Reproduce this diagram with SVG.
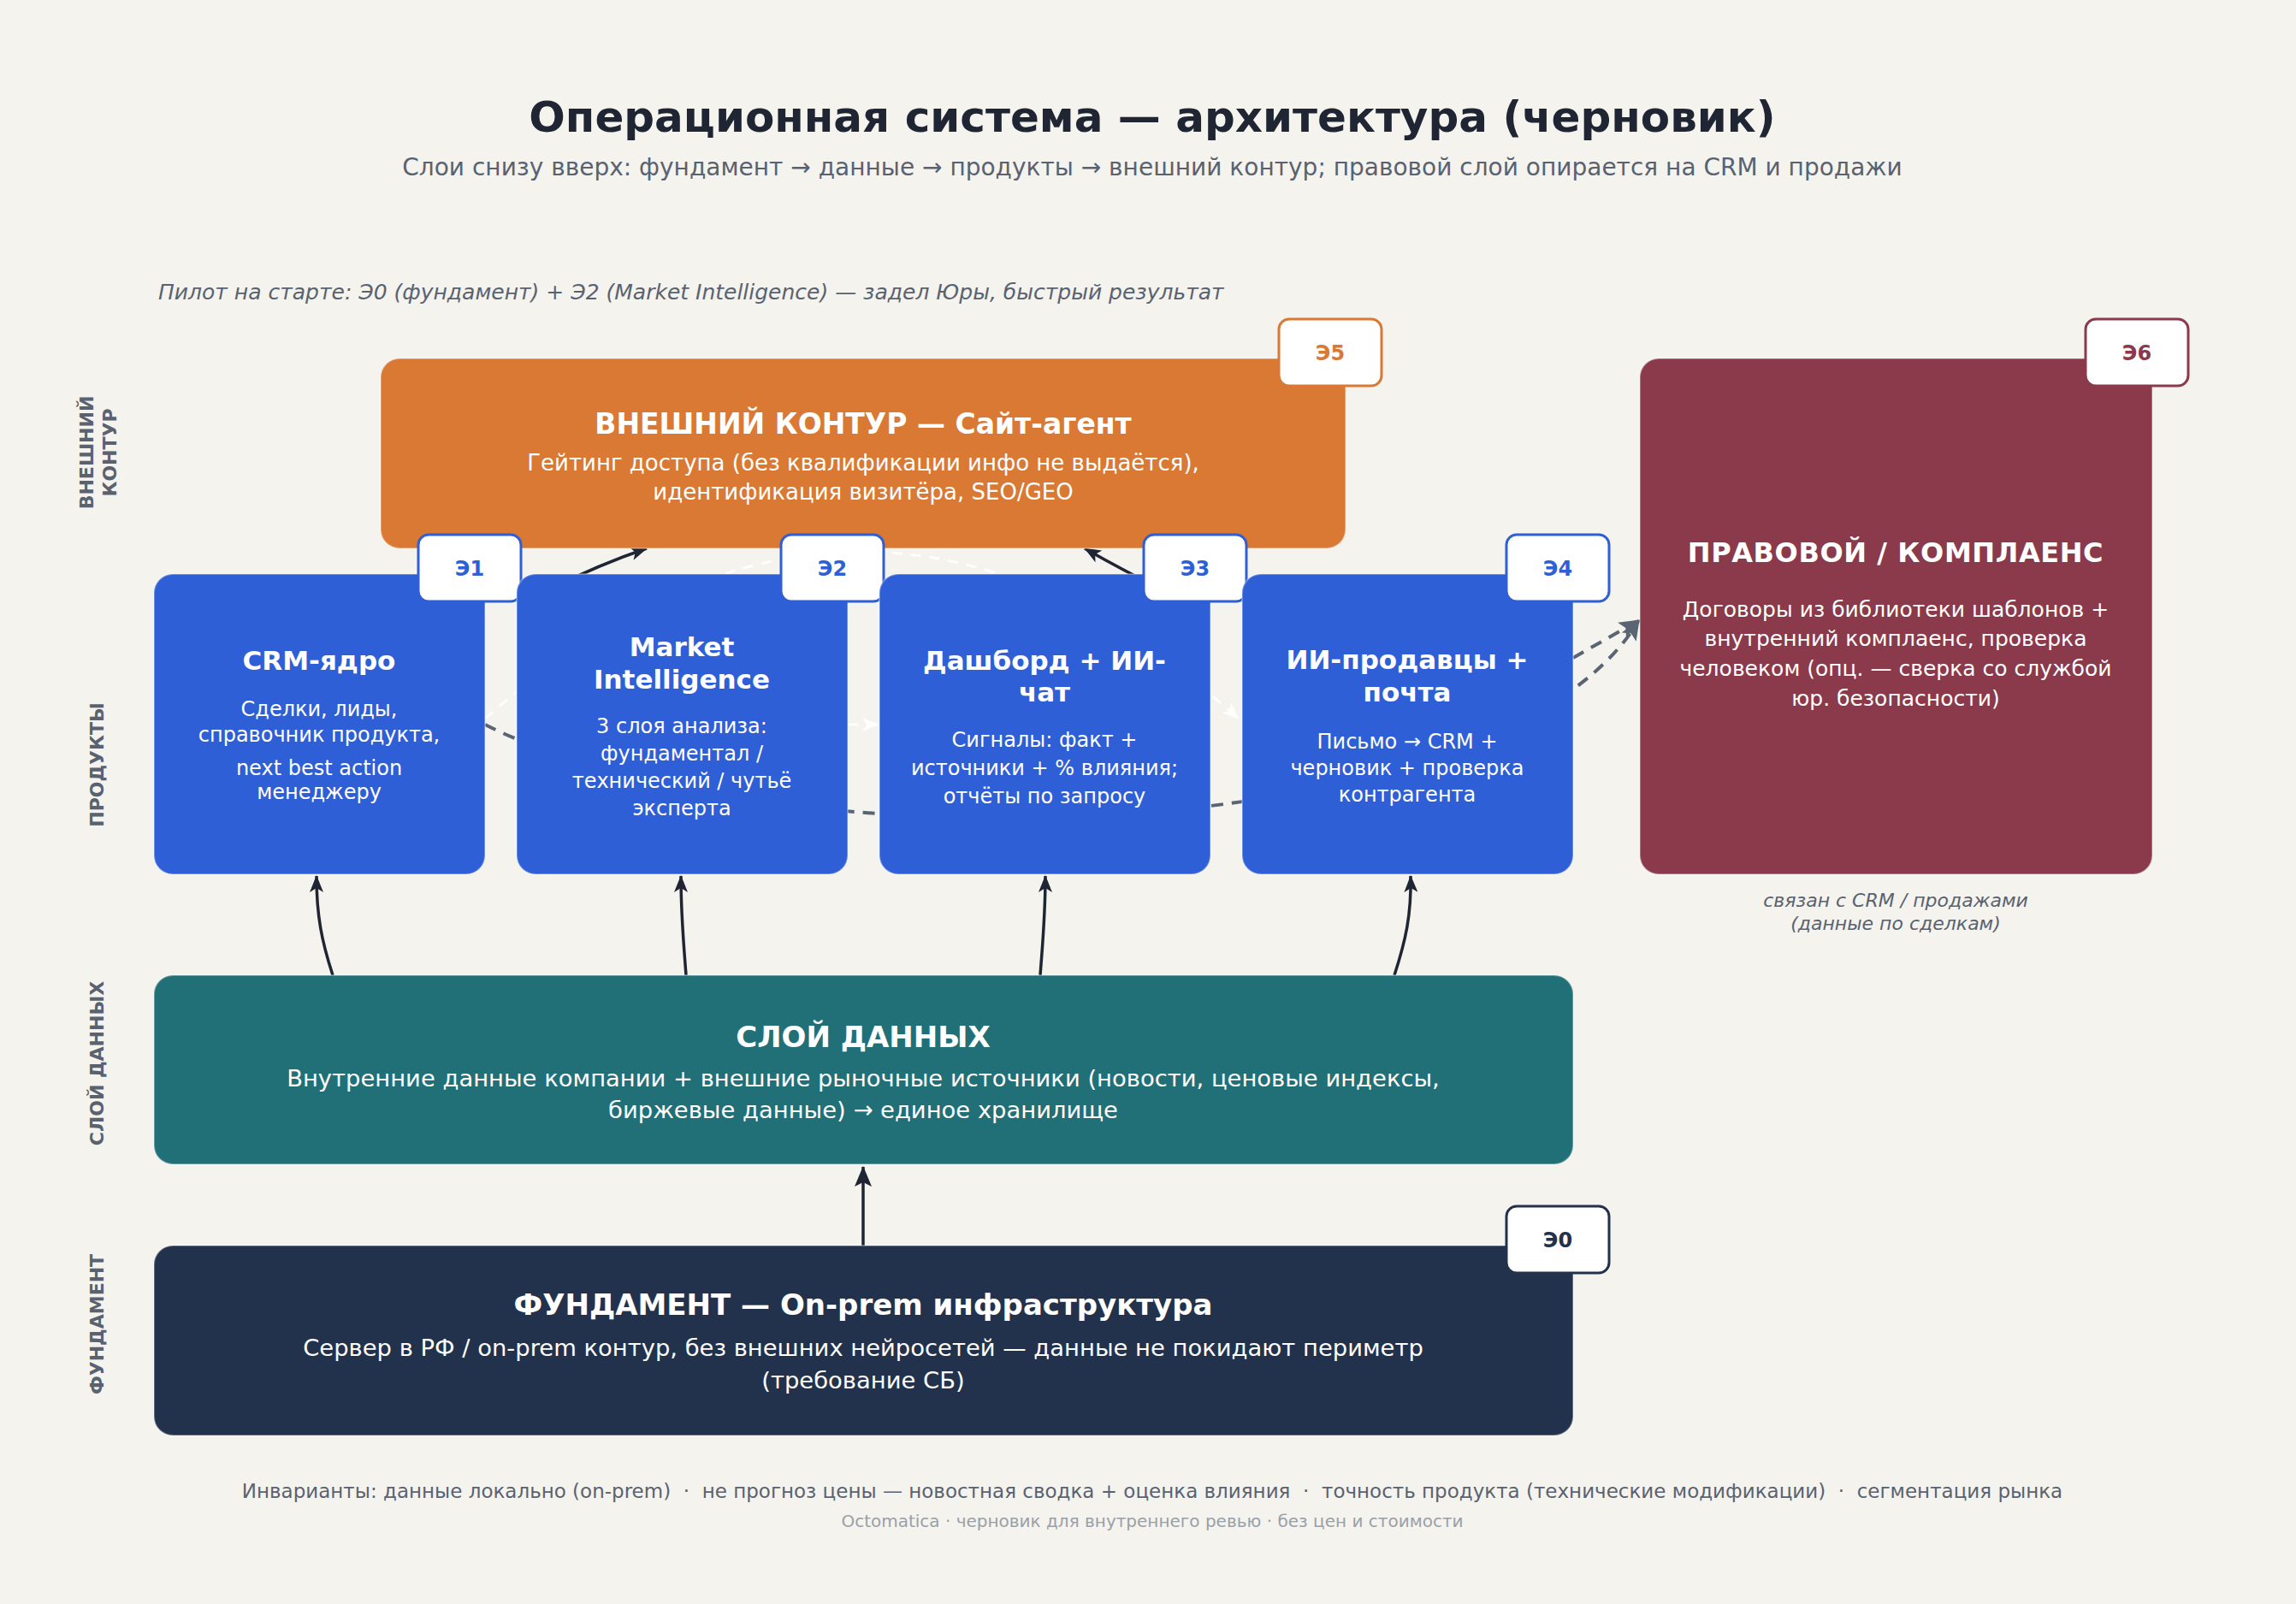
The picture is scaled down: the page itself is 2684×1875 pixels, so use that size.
<svg xmlns="http://www.w3.org/2000/svg" width="2684" height="1875" viewBox="0 0 2684 1875">
<defs>
<style>
text{font-family:"DejaVu Sans","Noto Sans",sans-serif}
.t{font-weight:bold;fill:#fff;text-anchor:middle}
.d{fill:#fff;text-anchor:middle}
.side{font-weight:bold;fill:#5a6270;font-size:22px;text-anchor:middle}
.badge{fill:#fff;stroke-width:3}
.bt{font-weight:bold;font-size:24px;text-anchor:middle}
.box{stroke:#fff;stroke-opacity:0.3;stroke-width:2}
.solid{fill:none;stroke:#1f2533;stroke-width:3.5}
.gdash{fill:none;stroke:#5a6472;stroke-width:4;stroke-dasharray:14 10}
.wdash{fill:none;stroke:#fff;stroke-opacity:0.85;stroke-width:3;stroke-dasharray:12 10}
</style>
<marker id="ah" viewBox="0 0 20 16" refX="19" refY="8" markerWidth="20" markerHeight="16" markerUnits="userSpaceOnUse" orient="auto"><path d="M0,0 L20,8 L0,16 L5,8 z" fill="#1f2533"/></marker>
<marker id="ahb" viewBox="0 0 24 20" refX="23" refY="10" markerWidth="24" markerHeight="20" markerUnits="userSpaceOnUse" orient="auto"><path d="M0,0 L24,10 L0,20 L5,10 z" fill="#1f2533"/></marker>
<marker id="ahg" viewBox="0 0 24 20" refX="23" refY="10" markerWidth="24" markerHeight="20" markerUnits="userSpaceOnUse" orient="auto"><path d="M0,0 L24,10 L0,20 L5,10 z" fill="#5a6472"/></marker>
<marker id="ahw" viewBox="0 0 20 16" refX="19" refY="8" markerWidth="20" markerHeight="16" markerUnits="userSpaceOnUse" orient="auto"><path d="M0,0 L20,8 L0,16 L5,8 z" fill="#fff" fill-opacity="0.85"/></marker>
</defs>
<rect width="2684" height="1875" fill="#f4f3ee"/>
<text x="1347" y="154" font-size="50" font-weight="bold" fill="#1f2533" text-anchor="middle">Операционная система — архитектура (черновик)</text>
<text x="1347" y="205" font-size="28" fill="#5a6270" text-anchor="middle">Слои снизу вверх: фундамент → данные → продукты → внешний контур; правовой слой опирается на CRM и продажи</text>
<text x="185" y="350" font-size="25" font-style="italic" fill="#5a6270">Пилот на старте: Э0 (фундамент) + Э2 (Market Intelligence) — задел Юры, быстрый результат</text>
<g id="side-labels">
<text class="side" transform="translate(109,529) rotate(-90)"><tspan x="0" dy="0">ВНЕШНИЙ</tspan><tspan x="0" dy="27">КОНТУР</tspan></text>
<text class="side" transform="translate(121,894) rotate(-90)">ПРОДУКТЫ</text>
<text class="side" transform="translate(121,1243) rotate(-90)">СЛОЙ ДАННЫХ</text>
<text class="side" transform="translate(121,1548) rotate(-90)">ФУНДАМЕНТ</text>
</g>
<g id="connectors">
<path class="solid" d="M1009 1456 L1009 1364" stroke-width="5" marker-end="url(#ahb)"/>
<path class="solid" d="M389 1140 C376 1100 370 1070 370 1024" marker-end="url(#ah)"/>
<path class="solid" d="M802 1140 C799 1100 796 1070 796 1024" marker-end="url(#ah)"/>
<path class="solid" d="M1216 1140 C1219 1100 1222 1070 1222 1024" marker-end="url(#ah)"/>
<path class="solid" d="M1630 1140 C1643 1100 1650 1070 1649 1024" marker-end="url(#ah)"/>
<path class="solid" d="M640 690 Q700 660 756 641" stroke-width="4" marker-end="url(#ah)"/>
<path class="solid" d="M1360 690 Q1310 665 1268 641" stroke-width="4" marker-end="url(#ah)"/>
<path class="wdash" d="M567 840 Q1007 450 1448 840" marker-end="url(#ahw)"/>
<path class="wdash" d="M991 847 L1027 847" marker-end="url(#ahw)"/>
<path class="gdash" d="M567 847 C900 1015 1750 1000 1916 725" marker-end="url(#ahg)"/>
<path class="gdash" d="M1839 769 L1916 725" marker-end="url(#ahg)"/>
</g>
<g id="node-e5">
<rect class="box" x="445" y="419" width="1128" height="222" rx="22" fill="#d97934"/>
<text class="t" x="1009" y="507" font-size="33">ВНЕШНИЙ КОНТУР — Сайт-агент</text>
<text class="d" x="1009" y="550" font-size="26">Гейтинг доступа (без квалификации инфо не выдаётся),</text>
<text class="d" x="1009" y="584" font-size="26">идентификация визитёра, SEO/GEO</text>
<rect class="badge" x="1495" y="373" width="120" height="78" rx="12" stroke="#d97934"/>
<text class="bt" x="1555" y="421" fill="#d97934">Э5</text>
</g>
<g id="node-e6">
<rect class="box" x="1917" y="419" width="599" height="603" rx="22" fill="#8a3a4a"/>
<text class="t" x="2216" y="657" font-size="32" letter-spacing="0.6">ПРАВОВОЙ / КОМПЛАЕНС</text>
<text class="d" x="2216" y="721" font-size="25">Договоры из библиотеки шаблонов +</text>
<text class="d" x="2216" y="755" font-size="25">внутренний комплаенс, проверка</text>
<text class="d" x="2216" y="790" font-size="25">человеком (опц. — сверка со службой</text>
<text class="d" x="2216" y="825" font-size="25">юр. безопасности)</text>
<rect class="badge" x="2438" y="373" width="120" height="78" rx="12" stroke="#8a3a4a"/>
<text class="bt" x="2498" y="421" fill="#8a3a4a">Э6</text>
<text x="2216" y="1060" font-size="22" font-style="italic" fill="#5a6270" text-anchor="middle">связан с CRM / продажами</text>
<text x="2216" y="1087" font-size="22" font-style="italic" fill="#5a6270" text-anchor="middle">(данные по сделкам)</text>
</g>
<g id="node-e1">
<rect class="box" x="180" y="671" width="387" height="351" rx="22" fill="#2f5fd6"/>
<text class="t" x="373" y="783" font-size="31">CRM-ядро</text>
<text class="d" x="373" y="837" font-size="24">Сделки, лиды,</text>
<text class="d" x="373" y="867" font-size="24">справочник продукта,</text>
<text class="d" x="373" y="906" font-size="24">next best action</text>
<text class="d" x="373" y="934" font-size="24">менеджеру</text>
<rect class="badge" x="489" y="625" width="120" height="78" rx="12" stroke="#2f5fd6"/>
<text class="bt" x="549" y="673" fill="#2f5fd6">Э1</text>
</g>
<g id="node-e2">
<rect class="box" x="604" y="671" width="387" height="351" rx="22" fill="#2f5fd6"/>
<text class="t" x="797" y="767" font-size="31">Market</text>
<text class="t" x="797" y="805" font-size="31">Intelligence</text>
<text class="d" x="797" y="857" font-size="24">3 слоя анализа:</text>
<text class="d" x="797" y="889" font-size="24">фундаментал /</text>
<text class="d" x="797" y="921" font-size="24">технический / чутьё</text>
<text class="d" x="797" y="953" font-size="24">эксперта</text>
<rect class="badge" x="913" y="625" width="120" height="78" rx="12" stroke="#2f5fd6"/>
<text class="bt" x="973" y="673" fill="#2f5fd6">Э2</text>
</g>
<g id="node-e3">
<rect class="box" x="1028" y="671" width="387" height="351" rx="22" fill="#2f5fd6"/>
<text class="t" x="1221" y="783" font-size="31">Дашборд + ИИ-</text>
<text class="t" x="1221" y="820" font-size="31">чат</text>
<text class="d" x="1221" y="873" font-size="24">Сигналы: факт +</text>
<text class="d" x="1221" y="906" font-size="24">источники + % влияния;</text>
<text class="d" x="1221" y="939" font-size="24">отчёты по запросу</text>
<rect class="badge" x="1337" y="625" width="120" height="78" rx="12" stroke="#2f5fd6"/>
<text class="bt" x="1397" y="673" fill="#2f5fd6">Э3</text>
</g>
<g id="node-e4">
<rect class="box" x="1452" y="671" width="387" height="351" rx="22" fill="#2f5fd6"/>
<text class="t" x="1645" y="782" font-size="31">ИИ-продавцы +</text>
<text class="t" x="1645" y="820" font-size="31">почта</text>
<text class="d" x="1645" y="875" font-size="24">Письмо → CRM +</text>
<text class="d" x="1645" y="906" font-size="24">черновик + проверка</text>
<text class="d" x="1645" y="937" font-size="24">контрагента</text>
<rect class="badge" x="1761" y="625" width="120" height="78" rx="12" stroke="#2f5fd6"/>
<text class="bt" x="1821" y="673" fill="#2f5fd6">Э4</text>
</g>
<g id="node-data">
<rect class="box" x="180" y="1140" width="1659" height="221" rx="22" fill="#217078"/>
<text class="t" x="1009" y="1224" font-size="34">СЛОЙ ДАННЫХ</text>
<text class="d" x="1009" y="1270" font-size="27.4">Внутренние данные компании + внешние рыночные источники (новости, ценовые индексы,</text>
<text class="d" x="1009" y="1307" font-size="27.4">биржевые данные) → единое хранилище</text>
</g>
<g id="node-e0">
<rect class="box" x="180" y="1456" width="1659" height="222" rx="22" fill="#22324c"/>
<text class="t" x="1009" y="1537" font-size="34">ФУНДАМЕНТ — On-prem инфраструктура</text>
<text class="d" x="1009" y="1585" font-size="27.4">Сервер в РФ / on-prem контур, без внешних нейросетей — данные не покидают периметр</text>
<text class="d" x="1009" y="1623" font-size="27.4">(требование СБ)</text>
<rect class="badge" x="1761" y="1410" width="120" height="78" rx="12" stroke="#22324c"/>
<text class="bt" x="1821" y="1458" fill="#22324c">Э0</text>
</g>
<text x="1347" y="1751" font-size="23" fill="#5a6270" text-anchor="middle" xml:space="preserve">Инварианты: данные локально (on-prem)  ·  не прогноз цены — новостная сводка + оценка влияния  ·  точность продукта (технические модификации)  ·  сегментация рынка</text>
<text x="1347" y="1785" font-size="20" fill="#9aa0a8" text-anchor="middle">Octomatica · черновик для внутреннего ревью · без цен и стоимости</text>
</svg>
